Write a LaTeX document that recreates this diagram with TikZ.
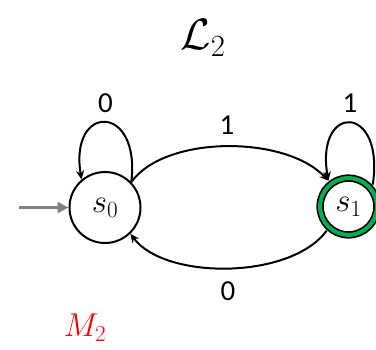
\RequirePackage{fix-cm}
\documentclass[tikz,border=0pt]{standalone}
\usepackage{fontspec}
\usetikzlibrary{arrows.meta}
\newfontfamily\labfont{Carlito}
\definecolor{accgreen}{RGB}{0,176,80}
\definecolor{initgray}{RGB}{128,128,128}
\begin{document}
\begin{tikzpicture}[x=1pt,y=-1pt,
  state/.style={circle,draw=black,line width=2pt,minimum size=71pt,inner sep=0pt,font=\fontsize{33}{36}\selectfont},
  accstate/.style={circle,draw=none,minimum size=65pt,inner sep=0pt},
  edge/.style={line width=2pt,-{Stealth[length=9pt,width=8pt]}},
  lab/.style={font=\fontsize{29}{32}\selectfont\labfont,inner sep=0pt}]
\useasboundingbox (0,0) rectangle (376,350);
\node[inner sep=0pt,font=\fontsize{44}{48}\selectfont] (title) at (203,38) {$\mathcal{L}_2$};
\node[state] (s0) at (105,207.5) {$s_0$};
\node[accstate] (s1) at (348.5,206.5) {};
\draw[line width=7.4pt,black] (s1.center) circle (28.4pt);
\draw[line width=4pt,accgreen] (s1.center) circle (28.4pt);
\node[inner sep=0pt,font=\fontsize{33}{36}\selectfont] (s1t) at (s1.center) {$s_1$};
\coordinate (start) at (19,207.5);
\draw[line width=3pt,initgray,-{Triangle[length=11pt,width=11pt]}] (start) -- (s0.west);
% loops
\draw[edge] (s0.44) .. controls (141,103) and (69,103) .. (s0.130);
\draw[edge] (s1.42) .. controls (385,103) and (315,103) .. (s1.128);
% transitions
\draw[edge] (s0.44) .. controls (165,135) and (285,135) .. (s1.128);
\draw[edge] (s1.228) .. controls (290,280) and (165,280) .. (s0.314);
% labels
\node[lab] (l00) at (105.5,103) {0};
\node[lab] (l01) at (227,125) {1};
\node[lab] (l11) at (350,103) {1};
\node[lab] (l10) at (228,291) {0};
\node[inner sep=0pt,red,font=\fontsize{33}{36}\selectfont] (m2) at (85,328) {$M_2$};
\end{tikzpicture}
\end{document}
